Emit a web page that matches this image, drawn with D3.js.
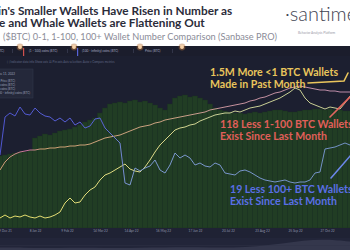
<!DOCTYPE html>
<html lang="en">
<head>
<meta charset="UTF-8">
<title>BTC wallet number comparison</title>
<script src="https://d3js.org/d3.v7.min.js"></script>
<style>
  body { margin: 0; background: #fff; }
  svg { display: block; font-family: Lato, "Open Sans", sans-serif; }
</style>
</head>
<body>
<svg id="chart" width="350" height="250"></svg>
<script>
// one point every 5 days
const startDate = new Date(2021, 11, 4);
const stepDays = 5;

// (0 - 1) coins wallets, index units
const wallets0to1 = [10,13,10,12,11,13,11,10,12,10,11,13,16,25,30,25,26,33,38,41,
  48,53,55,58,61,64,59,57,56,61,68,76,83,88,93,98,100,101,103,104,
  107,109,111,113,114,115,115,117,116,118,120,121,122,124,126,128,130,133,136,140,
  138,130,125,123,121,119,121,120,119,125,132];

// (1 - 100) coins wallets
const wallets1to100 = [58,66,71,74,76,77,78,78,79,79,80,80,81,81,82,82,83,83,84,86,
  88,90,91,92,93,95,97,99,101,102,103,105,106,108,109,110,111,112,113,114,
  115,116,118,119,120,121,122,123,124,125,127,128,130,131,133,135,136,138,140,141,
  142,141,140,139,138,138,137,137,136,136,136];

// (100 - infinity) coins wallets
const wallets100plus = [73,111,115,112,121,114,113,120,115,112,111,107,110,106,110,103,106,100,102,109,
  110,100,95,90,85,45,43,60,57,60,62,68,58,55,63,75,70,73,70,63,
  65,62,61,65,63,55,54,53,57,58,56,53,50,48,47,46,47,48,46,45,
  46,46,48,55,56,79,80,81,83,85,83];

// price (BTC), drawn as bars
const priceBars = [72,73,74,75,76,76,78,90,92,94,93,95,97,98,99,101,103,106,108,110,
  115,120,124,125,126,125,127,128,126,127,125,123,120,118,124,130,132,133,131,132,
  130,128,124,120,118,117,116,115,115,114,115,116,115,116,117,118,118,117,116,116,
  117,118,118,119,119,118,119,118,118,117,117];

const tickDates = ["2021-12-09","2022-01-08","2022-02-09","2022-03-14","2022-04-14","2022-05-16",
  "2022-06-17","2022-07-20","2022-08-23","2022-09-25","2022-10-27"];

const legendLabels = ["(0 - 1) coins (BTC)", "(1 - 100) coins (BTC)", "(100 - infinity) coins (BTC)", "Price (BTC)"];
const tooltipLines = ["June 11, 2022", "Price (BTC)", "(0 - 1) coins (BTC)", "(1 - 100) coins (BTC)", "(100 - infinity) coins (BTC)"];
const navigatorValues = [2,2,1.5,2,2,1.5,2,2,2.5,2,2,3,5,8,9,7];

const svg = d3.select("#chart");
const W = 350;

// ---- header ----
svg.append("rect").attr("width", W).attr("height", 46).attr("fill", "#ffffff");
svg.append("text").attr("x", -2).attr("y", 14.5)
  .attr("font-size", 11.8).attr("font-weight", 700).attr("fill", "#2b2c3a")
  .text("in's Smaller Wallets Have Risen in Number as");
svg.append("text").attr("x", -1).attr("y", 26.5)
  .attr("font-size", 11.8).attr("font-weight", 700).attr("fill", "#2b2c3a")
  .text("e and Whale Wallets are Flattening Out");
svg.append("text").attr("x", 3).attr("y", 39.5)
  .attr("font-size", 9.2).attr("fill", "#8b8c98")
  .text("($BTC) 0-1, 1-100, 100+ Wallet Number Comparison (Sanbase PRO)");
svg.append("text").attr("x", 285).attr("y", 21)
  .attr("font-size", 20).attr("font-weight", 300).attr("fill", "#3f4452")
  .text("·santiment");
svg.append("text").attr("x", 298).attr("y", 34)
  .attr("font-size", 3.2).attr("fill", "#9a9aa8")
  .text("Behavior Analysis Platform");

// ---- dark panel ----
svg.append("rect").attr("y", 46).attr("width", W).attr("height", 204).attr("fill", "#1c1f30");
svg.append("rect").attr("y", 46).attr("width", W).attr("height", 10).attr("fill", "#1b1d2c");

// legend row
const legendX = [4, 29, 82, 145];
const legendBars = [null, "#d0504e", "#5863d8", null];
legendLabels.forEach((lab, i) => {
  svg.append("text").attr("x", legendX[i]).attr("y", 52)
    .attr("text-anchor", i === 0 ? "end" : "start")
    .attr("font-size", 3.2).attr("fill", "#a7acc4").text(lab);
});
[20, 74, 140, 182].forEach((cx, i) => {
  svg.append("circle").attr("cx", cx).attr("cy", 47).attr("r", 3.4).attr("fill", "#b8733a").attr("opacity", 0.45);
  svg.append("circle").attr("cx", cx).attr("cy", 47).attr("r", 2).attr("fill", "#f8d2a8");
  if (legendBars[i + 1]) {
    svg.append("rect").attr("x", cx + 3).attr("y", 48).attr("width", 1.2).attr("height", 8).attr("fill", legendBars[i + 1]);
  }
});
[12, 67, 133, 172].forEach(sx => {
  svg.append("rect").attr("x", sx).attr("y", 49).attr("width", 0.5).attr("height", 4).attr("fill", "#4a4e66");
});

// toolbar row
svg.append("text").attr("x", 7).attr("y", 63).attr("font-size", 3).attr("fill", "#5f6682")
  .text("[ ]  Indicator data info     Show axis     \u2612   Pin axis        Axis selection: Auto     v      Compare metrics");

// ---- scales ----
const dates = wallets0to1.map((_, i) => d3.timeDay.offset(startDate, i * stepDays));
const x = d3.scaleTime().domain([dates[0], dates[dates.length - 1]]).range([0, W]);
const y = d3.scaleLinear().domain([0, 163]).range([228, 65]);
const idxDate = i => new Date(startDate.getTime() + i * stepDays * 864e5);
const barW = x(dates[1]) - x(dates[0]);

// price bars
svg.append("g").selectAll("rect").data(priceBars).join("rect")
  .attr("x", (d, i) => x(dates[i]) - barW / 2)
  .attr("y", d => y(d))
  .attr("width", barW)
  .attr("height", d => y(0) - y(d))
  .attr("fill", "#213d24")
  .attr("stroke", "#1c3521")
  .attr("stroke-width", 0.4);

// line gradients
const defs = svg.append("defs");
function grad(id, stops) {
  const g = defs.append("linearGradient").attr("id", id)
    .attr("gradientUnits", "userSpaceOnUse").attr("x1", 0).attr("x2", W).attr("y1", 0).attr("y2", 0);
  stops.forEach(s => g.append("stop").attr("offset", s[0]).attr("stop-color", s[1]));
}
grad("gBlue", [[0, "#4f56cf"], [0.3, "#5a62d6"], [0.37, "#7c98cf"], [1, "#7190c4"]]);
grad("gYellow", [[0, "#e4dc68"], [0.45, "#dcd888"], [0.6, "#c8cf95"], [1, "#c6cd92"]]);
grad("gTan", [[0, "#cfa070"], [0.08, "#c4709a"], [0.12, "#cda072"], [0.5, "#c9a082"], [0.65, "#c6919c"], [1, "#b98aa8"]]);

const line = d3.line().x((d, i) => x(dates[i])).y(d => y(d));
[[wallets1to100, "url(#gTan)"], [wallets0to1, "url(#gYellow)"], [wallets100plus, "url(#gBlue)"]].forEach(([s, c]) => {
  svg.append("path").datum(s).attr("d", line).attr("fill", "none")
    .attr("stroke", c).attr("stroke-width", 1).attr("stroke-linejoin", "round");
});

// tooltip box
svg.append("rect").attr("x", -2).attr("y", 69).attr("width", 35).attr("height", 29)
  .attr("fill", "#24283a").attr("stroke", "#31364b").attr("stroke-width", 0.6);
tooltipLines.forEach((t, i) => {
  svg.append("text").attr("x", i === 4 ? 30 : 15).attr("y", i === 0 ? 74.5 : 82 + (i - 1) * 4)
    .attr("text-anchor", "end").attr("font-size", 3).attr("fill", "#9aa0b8").text(t);
});

// x axis strip
svg.append("rect").attr("y", 228).attr("width", W).attr("height", 10).attr("fill", "#1f2234");
const xAxis = svg.append("g").attr("transform", "translate(0,229.5)")
  .call(d3.axisBottom(x).tickValues(tickDates.map(d3.timeParse("%Y-%m-%d")))
    .tickFormat(d3.timeFormat("%-d %b %y")).tickSize(0).tickPadding(0));
xAxis.select(".domain").remove();
xAxis.selectAll("text").attr("font-size", 3.2).attr("fill", "#8d92aa").attr("font-family", "Lato, sans-serif");

// navigator
const nx = d3.scaleLinear().domain([0, navigatorValues.length - 1]).range([0, W]);
const ny = d3.scaleLinear().domain([0, 10]).range([250, 238]);
svg.append("rect").attr("y", 238).attr("width", W).attr("height", 12).attr("fill", "#222539");
svg.append("path").datum(navigatorValues)
  .attr("d", d3.area().x((d, i) => nx(i)).y0(250).y1(d => ny(d)).curve(d3.curveBasis))
  .attr("fill", "#34374c");
svg.append("rect").attr("y", 245).attr("width", W).attr("height", 0.5).attr("fill", "#2e3246");

// ---- annotations ----
const notes = [
  { lines: ["1.5M More <1 BTC Wallets", "Made in Past Month"], color: "#e9c55c", x: 210, y: 75.5 },
  { lines: ["118 Less 1-100 BTC Wallets", "Exist Since Last Month"], color: "#e15f5a", x: 220, y: 127.5 },
  { lines: ["19 Less 100+ BTC Wallets", "Exist Since Last Month"], color: "#5a6fe6", x: 230, y: 192.5 }
];
notes.forEach(n => {
  n.lines.forEach((t, i) => {
    svg.append("text").attr("x", n.x).attr("y", n.y + i * 12.5)
      .attr("font-size", 10.6).attr("font-weight", 700).attr("fill", n.color).text(t);
  });
});

// arrows, in data coordinates [index, value]
const arrows = [
  { pts: [[61.6, 145], [68.8, 147], [69.6, 155]], color: "#e9c55c" },
  { pts: [[66, 111], [70.2, 132]], color: "#e2665f" },
  { pts: [[66.2, 50], [70.2, 73]], color: "#6b87ea" }
];
const aLine = d3.line().x(d => x(idxDate(d[0]))).y(d => y(d[1]));
arrows.forEach(a => {
  svg.append("path").attr("d", aLine(a.pts)).attr("fill", "none")
    .attr("stroke", a.color).attr("stroke-width", 1.6).attr("stroke-linecap", "round");
});
</script>
</body>
</html>
